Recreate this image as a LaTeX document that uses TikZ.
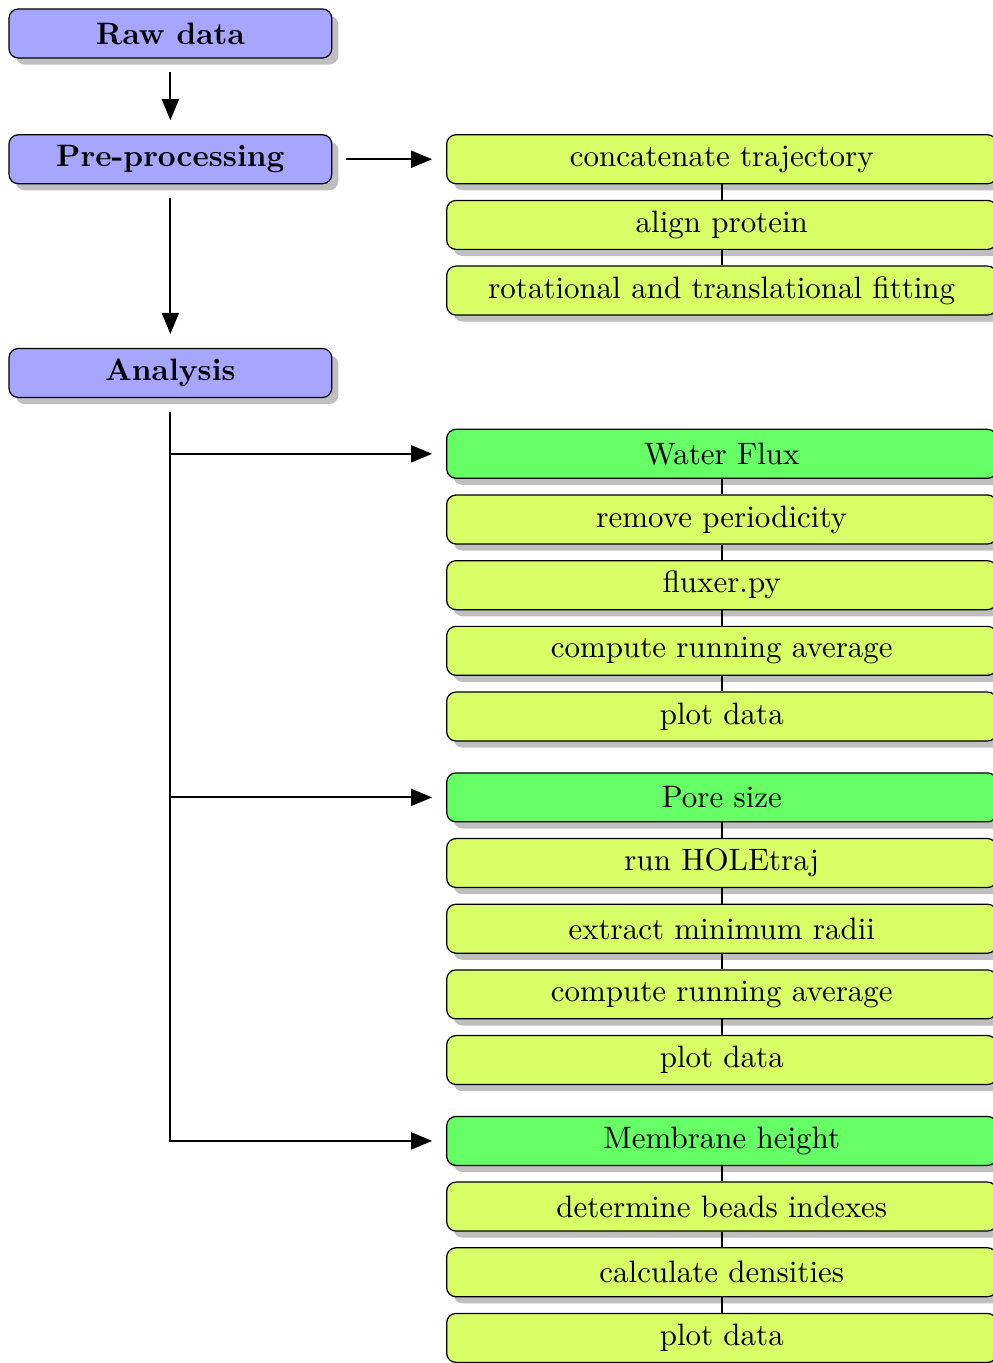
\documentclass[tikz,border=0pt]{standalone}
\usepackage{tikz}
\usetikzlibrary{arrows.meta}
\usetikzlibrary{positioning}
\usetikzlibrary{shadows}

\tikzset{
    mainbox/.style={draw, rounded corners=3pt, fill=blue!35, drop shadow,
        minimum width=104.2pt, minimum height=15.8pt, font=\bfseries},
    stepbox/.style={draw, rounded corners=3pt, fill=lime!60, drop shadow,
        minimum width=177.6pt, minimum height=15.8pt},
    headbox/.style={stepbox, fill=green!60},
    arr/.style={-{Triangle[length=6.8pt,width=5.5pt]}, semithick,
        shorten <=4.5pt, shorten >=4.5pt},
}

\begin{document}
\begin{tikzpicture}[node distance=5pt]
        \useasboundingbox (0,0) rectangle (320.5pt,-440pt);
        \node[mainbox] (raw) at (55pt,-10.8pt) {Raw data};
        \node[mainbox, below=24.4pt of raw] (pre) {Pre-processing};
        \node[mainbox, below=52.8pt of pre] (ana) {Analysis};

        \node[stepbox, right=36.7pt of pre] (c1) {concatenate trajectory};
        \node[stepbox, below=of c1] (c2) {align protein};
        \node[stepbox, below=of c2] (c3) {rotational and translational fitting};

        \coordinate (wtop) at (ana.south -| c1);
        \node[headbox, below=9.9pt of wtop] (w1) {Water Flux};
        \node[stepbox, below=of w1] (w2) {remove periodicity};
        \node[stepbox, below=of w2] (w3) {fluxer.py};
        \node[stepbox, below=of w3] (w4) {compute running average};
        \node[stepbox, below=of w4] (w5) {plot data};

        \node[headbox, below=9.9pt of w5] (p1) {Pore size};
        \node[stepbox, below=of p1] (p2) {run HOLEtraj};
        \node[stepbox, below=of p2] (p3) {extract minimum radii};
        \node[stepbox, below=of p3] (p4) {compute running average};
        \node[stepbox, below=of p4] (p5) {plot data};

        \node[headbox, below=9.9pt of p5] (m1) {Membrane height};
        \node[stepbox, below=of m1] (m2) {determine beads indexes};
        \node[stepbox, below=of m2] (m3) {calculate densities};
        \node[stepbox, below=of m3] (m4) {plot data};

        \foreach \a/\b in {c1/c2, c2/c3, w1/w2, w2/w3, w3/w4, w4/w5,
                p1/p2, p2/p3, p3/p4, p4/p5, m1/m2, m2/m3, m3/m4}
            \draw[line width=0.5pt] (\a) -- (\b);

        \draw[arr] (raw) -- (pre);
        \draw[arr] (pre) -- (c1);
        \draw[arr] (pre) -- (ana);
        \draw[arr] (ana) -- (ana |- m1) -- (m1);
        \draw[arr, shorten <=0pt] (ana |- w1) -- (w1);
        \draw[arr, shorten <=0pt] (ana |- p1) -- (p1);
\end{tikzpicture}
\end{document}
